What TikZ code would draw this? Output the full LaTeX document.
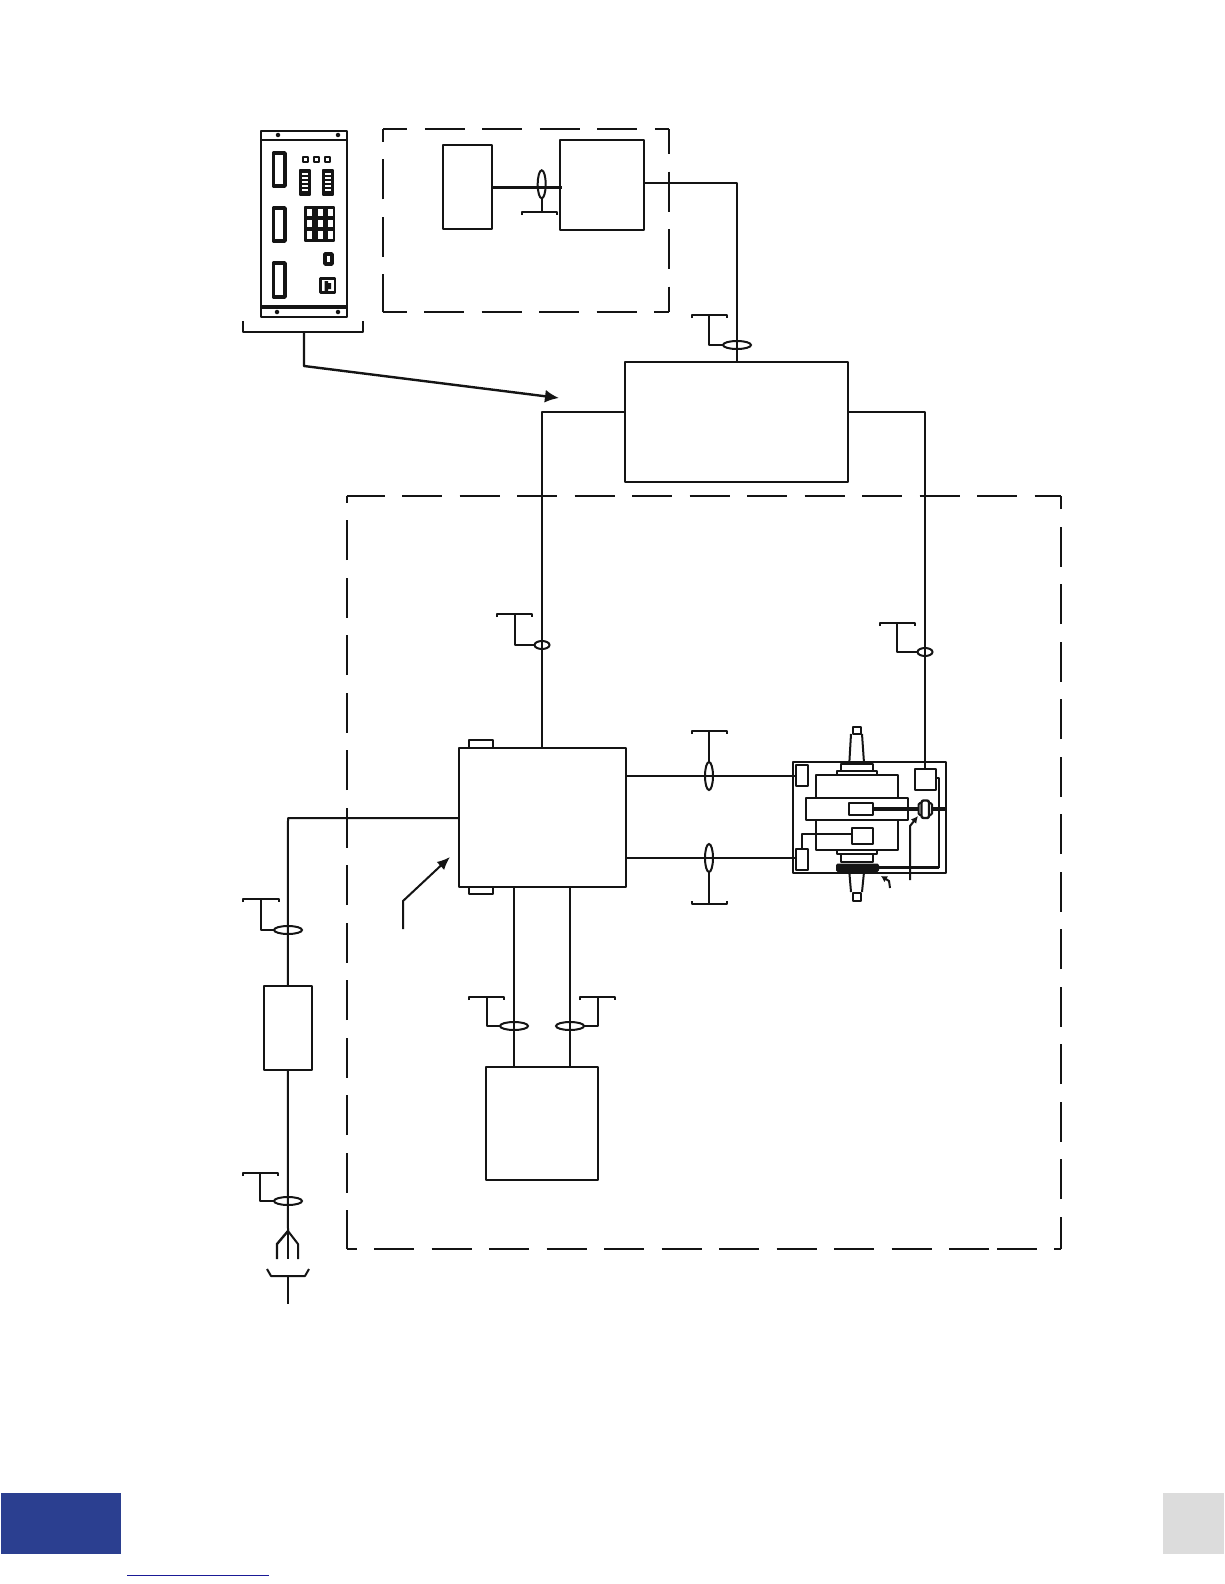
\documentclass[tikz,border=0pt]{standalone}
\usetikzlibrary{shapes.geometric,arrows.meta,calc}
\definecolor{ink}{HTML}{141414}
\definecolor{bandblue}{HTML}{2B3F90}
\definecolor{bandgrey}{HTML}{DCDCDC}
\definecolor{linkblue}{HTML}{1A1A96}
\tikzset{
  boxst/.style={draw=ink,line width=2pt,line join=round,fill=white,inner sep=0pt,outer sep=0pt,rectangle},
  thickbox/.style={boxst,line width=3.6pt},
  wire/.style={draw=ink,line width=2pt,line join=round},
  heavy/.style={draw=ink,line width=3.4pt},
  dashside/.style={draw=ink,line width=2pt,dash pattern=on 40pt off 17.5pt,dash phase=#1},
  ring/.style={ellipse,draw=ink,line width=2pt,inner sep=0pt,outer sep=0pt},
  hring/.style={ring,minimum width=28pt,minimum height=8pt},
  vring/.style={ring,minimum width=8pt,minimum height=28pt},
  sring/.style={ring,minimum width=15pt,minimum height=8pt},
  screw/.style={circle,fill=ink,inner sep=0pt,outer sep=0pt,minimum size=4.5pt},
  pointer/.style={draw=ink,line width=2pt,line join=round,-{Latex[length=13pt,width=11pt]}},
}
\newcommand\bx[6][boxst]{%
  \pgfmathsetmacro\cxv{(#3+#5)/2}\pgfmathsetmacro\cyv{(#4+#6)/2}%
  \pgfmathsetmacro\wv{#5-#3}\pgfmathsetmacro\hv{#6-#4}%
  \node[#1,minimum width=\wv pt,minimum height=\hv pt] (#2) at (\cxv,\cyv) {};}
\begin{document}
\begin{tikzpicture}[x=1pt,y=-1pt]
\useasboundingbox (0,0) rectangle (1224,1584);
\fill[white] (0,0) rectangle (1224,1584);

% --- panel ---
\bx[boxst,line width=2.6pt]{panel}{261}{131}{347}{317}
\coordinate (barTl) at (261,140); \coordinate (barTr) at (347,140);
\coordinate (barBl) at (261,307); \coordinate (barBr) at (347,307);
\draw[wire] (barTl) -- (barTr);
\draw[heavy] (barBl) -- (barBr);
\node[screw] (s1) at (278,135) {};
\node[screw] (s2) at (338,135) {};
\node[screw] (s3) at (277,312) {};
\node[screw] (s4) at (338,312) {};
\bx[thickbox]{slot1}{273.5}{153}{285}{186}
\bx[thickbox]{slot2}{273.5}{208}{285}{241}
\bx[thickbox]{slot3}{273.5}{263}{285}{297}
\bx[boxst,line width=2pt]{led1}{303}{157}{308}{162}
\bx[boxst,line width=2pt]{led2}{314}{157}{319}{162}
\bx[boxst,line width=2pt]{led3}{325}{157}{330}{162}
\bx[boxst,fill=ink,draw=ink]{disp1}{300}{170}{310}{195}
\bx[boxst,fill=ink,draw=ink]{disp2}{323}{170}{333}{195}
\foreach \yy in {172.5,176.5,180.5,184.5,188.5}{
  \fill[white] (302,\yy) rectangle (308,\yy+2.4);
  \fill[white] (325,\yy) rectangle (331,\yy+2.4);
}
\bx[boxst,fill=ink]{keys}{304.5}{207}{333.5}{241}
\foreach \xx in {307,317.5,327.5}\foreach \yy in {208.5,219.5,231}{
  \fill[white] (\xx,\yy) rectangle (\xx+5,\yy+7.5);
}
\bx[thickbox]{smallkey}{325}{254}{332}{264}
\bx[boxst,line width=2.6pt]{dial}{320.5}{278.5}{335}{292.5}
\fill[ink] (324.5,281) rectangle (328,291) (328,283) rectangle (331,289);

% panel bracket and arrow
\coordinate (pbl) at (243,321); \coordinate (pbl2) at (243,332);
\coordinate (pbr) at (363,321); \coordinate (pbr2) at (363,332);
\coordinate (pstem) at (304,332); \coordinate (pbend) at (304,366);
\coordinate (parrow) at (559,398);
\draw[wire] (pbl) -- (pbl2) -- (pbr2) -- (pbr);
\draw[pointer,line width=2.4pt,-{Latex[length=14pt,width=13pt]}] (pstem) -- (pbend) -- (parrow);

% --- top dashed enclosure ---
\coordinate (dAtl) at (383.3,129); \coordinate (dAtr) at (668.7,129);
\coordinate (dAbl) at (383.3,312.3); \coordinate (dAbr) at (668.7,312.3);
\draw[dashside=16] (dAtl) -- (dAtr);
\draw[dashside=16.6] (dAbl) -- (dAbr);
\draw[dashside=2] (dAbl) -- (dAtl);
\draw[dashside=15] (dAtr) -- (dAbr);
\bx[boxst]{boxA}{443}{145}{492}{228.5}
\bx[boxst]{boxB}{560.3}{140}{644}{230}
\coordinate (Aout) at (492,187.3); \coordinate (Bin) at (562,187.3);
\draw[heavy] (Aout) -- (Bin);
\node[vring] (ringA) at (541.7,184.3) {};
\coordinate (ringAb) at (541.7,212);
\draw[wire] (522,215) -- (522,212) -- (557,212) -- (557,215);
\draw[wire] (ringA.south) -- (ringAb);

% --- main box ---
\bx[boxst]{main}{625}{361.5}{848}{481.5}
\coordinate (Bout) at (644,182.7);
\coordinate (mainT) at (737,361.5);
\draw[wire] (Bout) -| (mainT);
\node[hring] (ringT) at (737,345) {};
\coordinate (tgA) at (709,315);
\draw[wire] (692,318) -- (692,315) -- (727,315) -- (727,318);
\draw[wire] (tgA) |- (ringT.west);

% --- big dashed enclosure ---
\coordinate (dBtl) at (346.7,495.7); \coordinate (dBtr) at (1061.3,495.7);
\coordinate (dBbl) at (346.7,1249); \coordinate (dBbr) at (1061.3,1249);
\coordinate (dBm) at (990,1249); \coordinate (dBn) at (997,1249);
\coordinate (dBo) at (1037,1249); \coordinate (dBp) at (1054,1249);
\draw[dashside=2] (dBtl) -- (dBtr);
\draw[dashside=1] (dBbl) -- (dBtl);
\draw[dashside=7.7] (dBbr) -- (dBtr);
\draw[dashside=30] (dBbl) -- (dBm);
\draw[draw=ink,line width=2pt] (dBn) -- (dBo) (dBp) -- (dBbr);

% --- inverter ---
\bx[boxst]{tabT}{469}{740}{493}{748}
\bx[boxst]{tabB}{469}{887}{493}{894}
\bx[boxst]{inv}{458.5}{748}{626}{887}

\coordinate (mainL) at (625,412);
\coordinate (mainR) at (848,412);
\coordinate (invT) at (542,748);
\draw[wire] (mainL) -| (invT);

% --- motor enclosure ---
\bx[boxst]{motor}{793}{762}{946}{873}
\bx[boxst]{sensor}{914.5}{769}{935.5}{790}
\draw[wire] (mainR) -| (sensor.north);
\node[sring] (ringL) at (542,645) {};
\node[sring] (ringR) at (925,652) {};
\coordinate (tgL) at (515,614);
\coordinate (tgR) at (897,623);
\draw[wire] (497,617) -- (497,614) -- (532,614) -- (532,617);
\draw[wire] (880,626) -- (880,623) -- (915,623) -- (915,626);
\draw[wire] (tgL) |- (ringL.west);
\draw[wire] (tgR) |- (ringR.west);

\bx[boxst]{termT}{796}{765}{808}{786}
\bx[boxst]{termB}{796}{848.5}{808}{870}
\coordinate (invA) at (626,776); \coordinate (invB) at (626,858);
\coordinate (mA) at (796,776); \coordinate (mB) at (796,858);
\draw[wire] (invA) -- (mA);
\draw[wire] (invB) -- (mB);
\node[vring] (ringA1) at (709,776) {};
\node[vring] (ringB1) at (709,858) {};
\draw[wire] (692,734) -- (692,731) -- (727,731) -- (727,734);
\draw[wire] (692,901) -- (692,904) -- (727,904) -- (727,901);
\coordinate (tgA1) at (709,731); \coordinate (tgB1) at (709,904);
\draw[wire] (tgA1) -- (ringA1.north);
\draw[wire] (tgB1) -- (ringB1.south);

% rotor assembly
\bx[boxst]{stator}{815.5}{775}{898}{850}
\bx[boxst]{flTa}{840.7}{764}{873.3}{771}
\bx[boxst]{flTb}{837.3}{771}{876.7}{775}
\bx[boxst]{flBa}{836.7}{850}{876.7}{854.3}
\bx[boxst]{flBb}{840.7}{854.3}{873.3}{861.7}
\bx[boxst]{band}{805.5}{797.5}{908}{820}
\bx[boxst]{coil}{849}{803}{872.5}{815}
\bx[boxst]{coil2}{851.5}{828}{872.5}{844}
\bx[boxst]{capT}{853.3}{727}{861}{734}
\bx[boxst]{capB}{853.3}{893}{861}{900.5}
\draw[wire] (851,734) -- (849.3,763);
\draw[wire] (862,734) -- (864,763);
\draw[wire] (849.3,872) -- (851,892);
\draw[wire] (864,872) -- (862,892);
\bx[boxst,fill=ink,draw=ink,rounded corners=1pt]{brake}{837}{864.5}{878}{871}

\coordinate (wireA) at (802,834);
\draw[wire] (coil2.west |- wireA) -- (wireA) -- (wireA |- termB.north);
\coordinate (wireB) at (939,778);
\coordinate (wireC) at (939,867.5);
\draw[wire] (sensor.east |- wireB) -- (wireB) -- (wireC);
\draw[heavy] (wireC) -- (brake.east |- wireC);

\coordinate (couplingC) at (925,809);
\draw[heavy] (coil.east |- couplingC) -- (946,809);
\bx[boxst,rounded corners=1.5pt]{couplingF}{918.5}{803}{932}{815}
\bx[boxst,line width=2.4pt,rounded corners=2pt]{coupling}{921.5}{800.5}{929}{818}

\coordinate (pA) at (910,880); \coordinate (pAb) at (910,826);
\coordinate (pAt) at (918,816);
\draw[wire,-{Latex[length=7pt,width=7pt]}] (pA) -- (pAb) -- (pAt);
\coordinate (pB) at (890,888); \coordinate (pBb) at (889,881);
\coordinate (pBt) at (881,876);
\draw[wire,-{Latex[length=6pt,width=7pt]}] (pB) -- (pBb) -- (pBt);

% --- lower box ---
\bx[boxst]{lower}{486}{1067}{598}{1180}
\coordinate (invC) at (514,887); \coordinate (invD) at (570,887);
\draw[wire] (invC) -- (invC |- lower.north);
\draw[wire] (invD) -- (invD |- lower.north);
\node[hring] (ringC) at (514,1026) {};
\node[hring] (ringD) at (570,1026) {};
\draw[wire] (469,1000) -- (469,997) -- (504,997) -- (504,1000);
\draw[wire] (580,1000) -- (580,997) -- (615,997) -- (615,1000);
\coordinate (tgC) at (487,997); \coordinate (tgD) at (598,997);
\draw[wire] (tgC) |- (ringC.west);
\draw[wire] (tgD) |- (ringD.east);

% inverter pointer
\coordinate (ipA) at (403,929); \coordinate (ipB) at (403,901); \coordinate (ipC) at (450,857);
\draw[pointer] (ipA) -- (ipB) -- (ipC);

% --- supply ---
\bx[boxst]{fuse}{263.5}{986}{312}{1069.5}
\coordinate (invW) at (458.5,818);
\coordinate (supT) at (288,818);
\draw[wire] (invW) -- (supT) -- (fuse.north);
\node[hring] (ringS1) at (288,930) {};
\node[hring] (ringS2) at (288,1201) {};
\draw[wire] (243,902) -- (243,899) -- (279,899) -- (279,902);
\draw[wire] (243,1176) -- (243,1173) -- (278,1173) -- (278,1176);
\coordinate (tgS1) at (261,899); \coordinate (tgS2) at (260,1173);
\draw[wire] (tgS1) |- (ringS1.west);
\draw[wire] (tgS2) |- (ringS2.west);
\coordinate (plugApex) at (288,1231);
\draw[wire] (fuse.south) -- (plugApex);
\coordinate (plugC) at (288,1259);
\coordinate (plugL) at (277,1244); \coordinate (plugLe) at (277,1259);
\coordinate (plugR) at (298,1244); \coordinate (plugRe) at (298,1259);
\draw[wire] (plugApex) -- (plugC);
\draw[wire,line width=2.4pt] (plugApex) -- (plugL) -- (plugLe);
\draw[wire] (plugApex) -- (plugR) -- (plugRe);
\coordinate (sockL) at (267,1269); \coordinate (sockLb) at (271,1276);
\coordinate (sockR) at (309,1269); \coordinate (sockRb) at (305,1276);
\coordinate (sockT) at (288,1276); \coordinate (sockE) at (288,1304);
\draw[wire] (sockL) -- (sockLb) -- (sockRb) -- (sockR);
\draw[wire] (sockT) -- (sockE);

% --- page furniture ---
\fill[bandblue] (1,1493) rectangle (121,1554);
\fill[bandgrey] (1163,1493) rectangle (1224,1554);
\draw[linkblue,line width=1pt] (127,1575) -- (269,1575);
\end{tikzpicture}
\end{document}
